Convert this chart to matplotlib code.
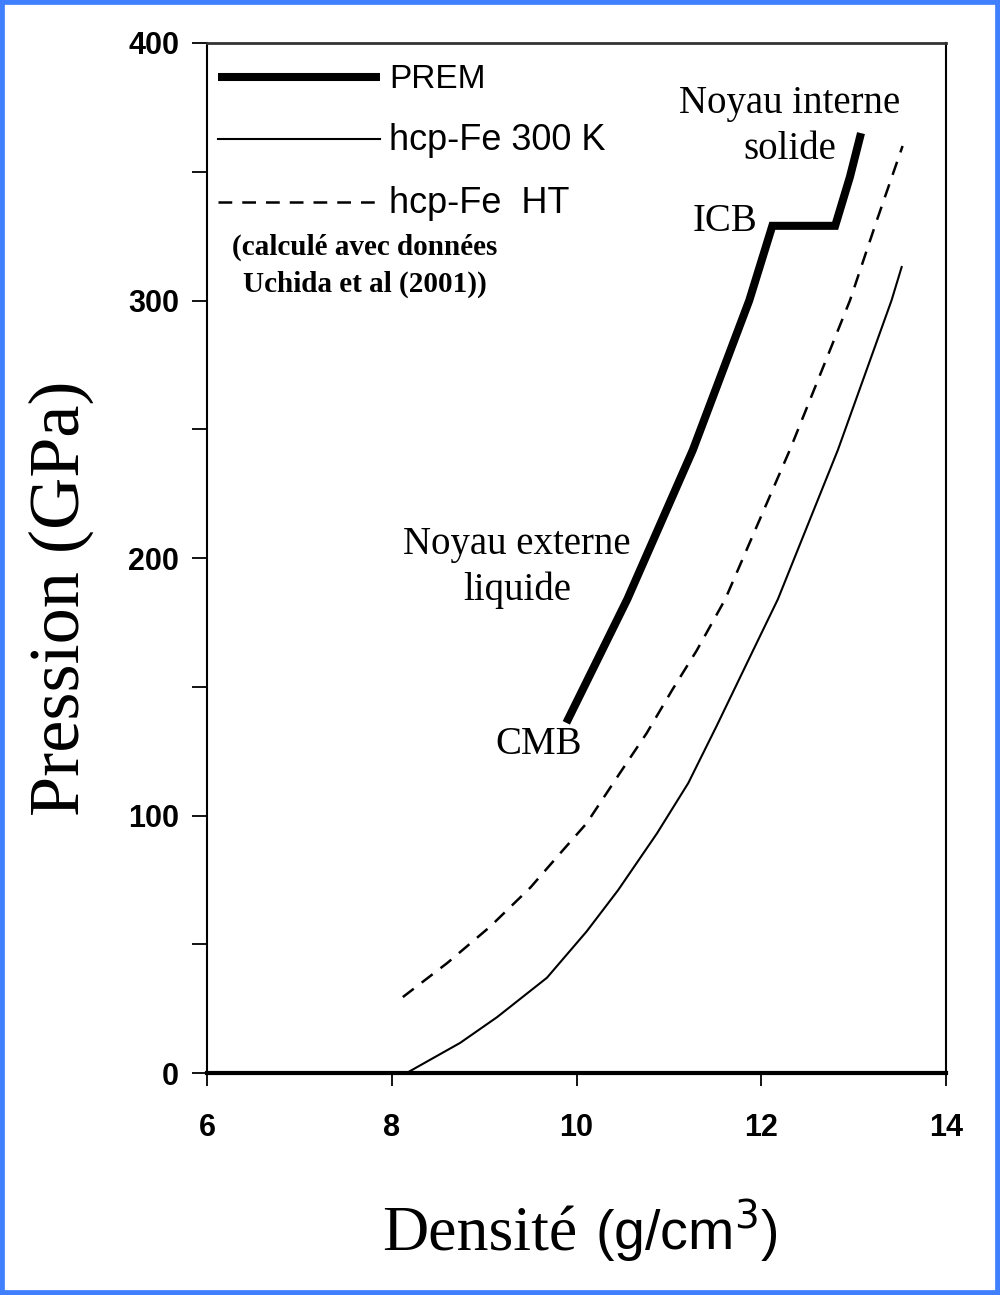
"""PREM vs hcp-Fe pressure-density curves."""
import matplotlib
matplotlib.use("Agg")
import matplotlib.pyplot as plt
from matplotlib.patches import Rectangle
from matplotlib.ticker import FixedLocator, FuncFormatter

# PREM (outer core from CMB to ICB, then inner core)
prem_density = [9.89, 10.55, 11.26, 11.87, 12.12, 12.80, 12.96, 13.08]
prem_pressure = [136, 184, 242, 300, 329, 329, 348, 365]

# hcp-Fe at 300 K
fe300_density = [8.16, 8.74, 9.14, 9.68, 10.11, 10.45, 10.87, 11.21, 11.52,
                 11.91, 12.18, 12.83, 13.41, 13.52]
fe300_pressure = [0, 11.7, 21.7, 37, 55, 71, 93, 112.6, 135, 164, 184,
                  242, 300, 313]

# hcp-Fe high temperature
feht_density = [8.12, 8.60, 9.06, 9.50, 9.84, 10.11, 10.47, 10.76, 11.04,
                11.30, 11.61, 12.31, 12.96, 13.25, 13.53]
feht_pressure = [29.5, 42.7, 56.7, 72, 86, 97, 116.5, 132, 149, 164, 184,
                 242, 300, 331, 360]

x_ticks = [6, 8, 10, 12, 14]
y_ticks = [0, 50, 100, 150, 200, 250, 300, 350, 400]

serif = "Liberation Serif"
sans = "Liberation Sans"

fig = plt.figure(figsize=(10, 12.95), dpi=100)
ax = fig.add_axes([0.207, 0.1714, 0.739, 0.7954])

ax.plot(prem_density, prem_pressure, color="black", lw=5.8,
        solid_joinstyle="miter", solid_capstyle="butt", label="PREM")
ax.plot(fe300_density, fe300_pressure, color="black", lw=1.5,
        label="hcp-Fe 300 K")
ax.plot(feht_density, feht_pressure, color="black", lw=1.8,
        linestyle=(0, (5.5, 4)), label="hcp-Fe  HT")

ax.set_xlim(6, 14)
ax.set_ylim(0, 400)
ax.xaxis.set_major_locator(FixedLocator(x_ticks))
ax.yaxis.set_major_locator(FixedLocator(y_ticks))
ax.yaxis.set_major_formatter(
    FuncFormatter(lambda v, _: f"{int(v)}" if v % 100 == 0 else ""))
ax.tick_params(axis="y", direction="out", length=11, width=1.3, pad=9)
ax.tick_params(axis="x", direction="out", length=9, width=1.3, pad=20)
for lab in ax.get_xticklabels() + ax.get_yticklabels():
    lab.set_fontfamily(sans)
    lab.set_fontweight("bold")
    lab.set_fontsize(22)

ax.spines["bottom"].set_linewidth(3)
ax.spines["left"].set_linewidth(1.5)
ax.spines["top"].set_linewidth(2)
ax.spines["right"].set_linewidth(1.5)
ax.spines["top"].set_color("#333333")

leg = ax.legend(loc="upper left", bbox_to_anchor=(0.015, 0.980),
                frameon=False, prop={"family": sans, "size": 22},
                handlelength=5.3, handletextpad=0.3, labelspacing=0.92,
                borderpad=0, borderaxespad=0)
leg.get_texts()[0].set_fontsize(24)
for txt in leg.get_texts()[1:]:
    txt.set_fontsize(26)

# annotations
ax.text(12.31, 367.5, "Noyau interne\nsolide", family=serif, fontsize=28,
        ha="center", va="center", linespacing=1.3)
ax.text(11.96, 330.5, "ICB", family=serif, fontsize=28, ha="right",
        va="center")
ax.text(9.355, 196.5, "Noyau externe\nliquide", family=serif, fontsize=28,
        ha="center", va="center", linespacing=1.3)
ax.text(9.59, 127.4, "CMB", family=serif, fontsize=28, ha="center",
        va="center")
ax.text(0.034, 0.802, "(calculé avec données", transform=ax.transAxes,
        family=serif, fontsize=21, fontweight="bold", ha="left",
        va="center")
ax.text(0.0487, 0.766, "Uchida et al (2001))", transform=ax.transAxes,
        family=serif, fontsize=21, fontweight="bold", ha="left",
        va="center")

# axis titles
fig.text(0.061, 0.538, "Pression (GPa)", family=serif, fontsize=52,
         rotation=90, ha="center", va="center")
fig.text(0.577, 0.0347, "Densité", family=serif, fontsize=46,
         ha="right", va="baseline")
fig.text(0.595, 0.0347, r"(g/cm$^3$)", family=sans, fontsize=40,
         ha="left", va="baseline")

fig.add_artist(Rectangle((0, 0), 1, 1, transform=fig.transFigure,
                         fill=False, edgecolor="#4080ff", linewidth=7))

fig.savefig("out.png", dpi=100)
